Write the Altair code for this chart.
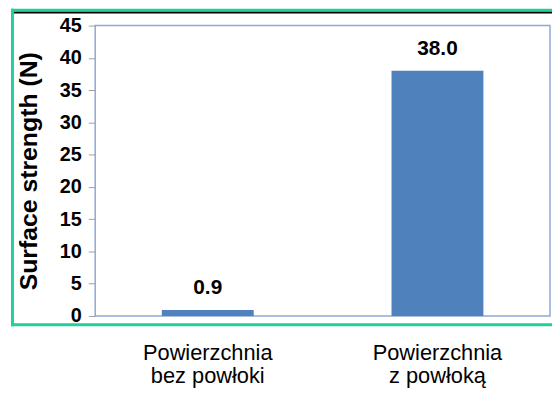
import altair as alt
import pandas as pd

categories = ["Powierzchnia bez powłoki", "Powierzchnia z powłoką"]
values = [0.9, 38.0]
value_labels = ["0.9", "38.0"]
y_ticks = [0, 5, 10, 15, 20, 25, 30, 35, 40, 45]

df = pd.DataFrame({"cat": categories, "val": values, "lbl": value_labels})

FONT = "Liberation Sans"
W, H = 459, 293

xenc = alt.X(
    "cat:N",
    sort=categories,
    scale=alt.Scale(paddingInner=0.6, paddingOuter=0.29),
    axis=alt.Axis(
        title=None,
        labelAngle=0,
        domain=False,
        ticks=False,
        labelFont=FONT,
        labelFontSize=22,
        labelColor="#000000",
        labelPadding=27,
        labelLineHeight=23,
        labelExpr="[substring(datum.label,0,indexof(datum.label,' ')), substring(datum.label,indexof(datum.label,' ')+1)]",
    ),
)
yenc = alt.Y(
    "val:Q",
    scale=alt.Scale(domain=[0, 45], nice=False),
    axis=alt.Axis(
        title="Surface strength (N)",
        values=y_ticks,
        labelOverlap=False,
        grid=False,
        domain=False,
        tickSize=7,
        tickColor="#a0a0a0",
        tickWidth=1,
        labelFont=FONT,
        labelFontSize=20,
        labelFontWeight="bold",
        labelColor="#000000",
        labelPadding=7,
        titleFont=FONT,
        titleFontSize=25,
        titleFontWeight="bold",
        titleColor="#000000",
        titlePadding=18,
    ),
)

bars = alt.Chart(df).mark_bar(color="#4f81bd").encode(x=xenc, y=yenc)
texts = alt.Chart(df).mark_text(
    font=FONT, fontSize=21, fontWeight="bold", color="#000000",
    baseline="alphabetic", dy=-16
).encode(x=xenc, y=yenc, text="lbl:N")

one = alt.Data(values=[{"a": 1}])
green = "#1fcf9c"
top_green = alt.Chart(one).mark_rule(color=green, strokeWidth=3).encode(
    x=alt.value(-85), x2=alt.value(470), y=alt.value(-15.5))
top_black = alt.Chart(one).mark_rule(color="#000000", strokeWidth=1.8).encode(
    x=alt.value(-82), x2=alt.value(470), y=alt.value(-13.2))
left_green = alt.Chart(one).mark_rule(color=green, strokeWidth=3).encode(
    x=alt.value(-83.5), y=alt.value(-17), y2=alt.value(303.5))
bottom_green = alt.Chart(one).mark_rule(color=green, strokeWidth=3).encode(
    x=alt.value(-85), x2=alt.value(470), y=alt.value(302))

chart = alt.layer(bars, texts, top_green, top_black, left_green, bottom_green).properties(
    width=W, height=H,
    autosize=alt.AutoSizeParams(type="none"),
    padding={"left": 88, "top": 16, "right": 2, "bottom": 74},
    background="#ffffff",
).configure_view(
    stroke="#8ea9d4", strokeWidth=1.5
)

chart.save("out.html", embed_options={"renderer": "svg", "actions": False})
